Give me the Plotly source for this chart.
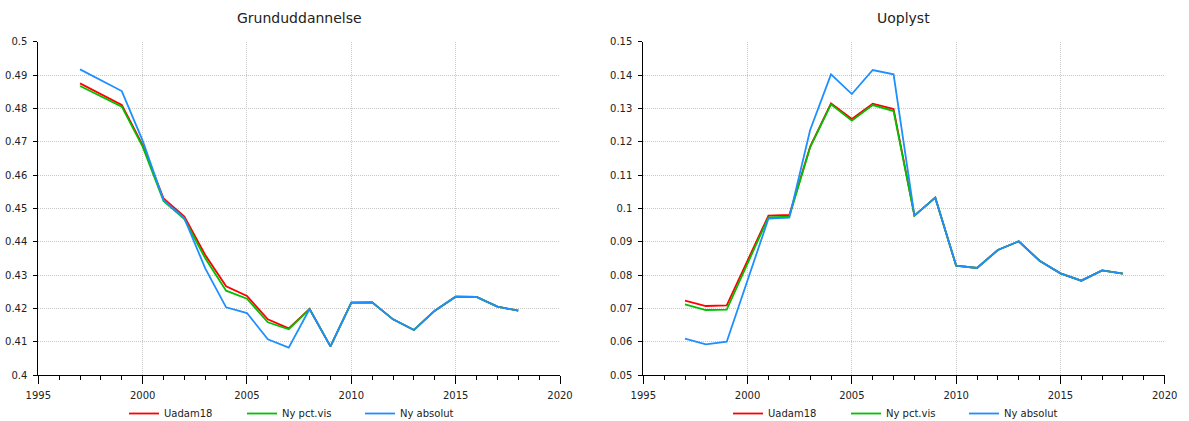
import plotly.graph_objects as go

years = list(range(1997, 2019))

# Grunduddannelse
grund_uadam18 = [0.4875, 0.4843, 0.4810, 0.4690, 0.4530, 0.4475, 0.4360, 0.4266, 0.4237, 0.4167, 0.4140,
                 0.4198, 0.4086, 0.4217, 0.4218, 0.4167, 0.4135, 0.4193, 0.4235, 0.4234, 0.4205, 0.4193]
grund_pctvis = [0.4867, 0.4837, 0.4805, 0.4685, 0.4522, 0.4468, 0.4350, 0.4253, 0.4229, 0.4158, 0.4137,
                0.4198, 0.4086, 0.4217, 0.4218, 0.4167, 0.4135, 0.4193, 0.4235, 0.4234, 0.4205, 0.4193]
grund_absolut = [0.4917, 0.4885, 0.4852, 0.4703, 0.4525, 0.4470, 0.4320, 0.4203, 0.4186, 0.4107, 0.4082,
                 0.4198, 0.4086, 0.4217, 0.4218, 0.4167, 0.4135, 0.4193, 0.4235, 0.4234, 0.4205, 0.4193]

# Uoplyst
uopl_uadam18 = [0.0723, 0.0707, 0.0709, 0.0843, 0.0978, 0.0980, 0.1185, 0.1315, 0.1268, 0.1314, 0.1298,
                0.0978, 0.1032, 0.0828, 0.0821, 0.0875, 0.0901, 0.0843, 0.0805, 0.0783, 0.0814, 0.0804]
uopl_pctvis = [0.0712, 0.0695, 0.0696, 0.0835, 0.0973, 0.0975, 0.1183, 0.1312, 0.1263, 0.1310, 0.1292,
               0.0978, 0.1032, 0.0828, 0.0821, 0.0875, 0.0901, 0.0843, 0.0805, 0.0783, 0.0814, 0.0804]
uopl_absolut = [0.0609, 0.0592, 0.0600, 0.0788, 0.0969, 0.0972, 0.1235, 0.1402, 0.1343, 0.1415, 0.1402,
                0.0978, 0.1032, 0.0828, 0.0821, 0.0875, 0.0901, 0.0843, 0.0805, 0.0783, 0.0814, 0.0804]

series_names = ["Uadam18", "Ny pct.vis", "Ny absolut"]
titles = ["Grunduddannelse", "Uoplyst"]
x_ticks = [1995, 2000, 2005, 2010, 2015, 2020]
y_range_left = [0.4, 0.5]
y_range_right = [0.05, 0.15]

colors = ["#ff0000", "#00c000", "#1e8fff"]
FONT = "DejaVu Sans"
TXT = "#222222"

fig = go.Figure()

left = [grund_uadam18, grund_pctvis, grund_absolut]
right = [uopl_uadam18, uopl_pctvis, uopl_absolut]
for i, name in enumerate(series_names):
    fig.add_trace(go.Scatter(x=years, y=left[i], mode="lines", name=name,
                             line=dict(color=colors[i], width=1.8),
                             xaxis="x", yaxis="y", legend="legend"))
for i, name in enumerate(series_names):
    fig.add_trace(go.Scatter(x=years, y=right[i], mode="lines", name=name,
                             line=dict(color=colors[i], width=1.8),
                             xaxis="x2", yaxis="y2", legend="legend2"))

W, H = 1189.0, 421.0
ydom = [1 - 375 / H, 1 - 41.7 / H]
xdom1 = [38.3 / W, 560 / W]
xdom2 = [643.3 / W, 1164.7 / W]

def xaxis(dom, anchor):
    return dict(domain=dom, anchor=anchor, range=[1995, 2020], tickvals=x_ticks, automargin=False,
                showline=True, linecolor="black", linewidth=1,
                ticks="outside", ticklen=8, tickcolor="black", ticklabelstandoff=3,
                minor=dict(dtick=1, ticks="outside", ticklen=4, tickcolor="black", showgrid=False),
                showgrid=True, gridcolor="#c8c8c8", griddash="1px,1px", gridwidth=1,
                zeroline=False, tickfont=dict(family=FONT, size=10, color=TXT))

def yaxis(dom, anchor, rng):
    return dict(domain=dom, anchor=anchor, range=rng, dtick=0.01, tickformat=".2~f", automargin=False,
                showline=True, linecolor="black", linewidth=1,
                ticks="outside", ticklen=4, tickcolor="black", ticklabelstandoff=4,
                showgrid=True, gridcolor="#c8c8c8", griddash="1px,1px", gridwidth=1,
                zeroline=False, tickfont=dict(family=FONT, size=10, color=TXT))

legend_common = dict(orientation="h", yanchor="bottom", xanchor="left",
                     font=dict(family=FONT, size=10, color=TXT),
                     entrywidth=73, bgcolor="rgba(0,0,0,0)", borderwidth=0)

fig.update_layout(
    width=W, height=H,
    margin=dict(l=0, r=0, t=0, b=0, autoexpand=False),
    paper_bgcolor="white", plot_bgcolor="white",
    font=dict(family=FONT, size=10, color=TXT),
    xaxis=xaxis(xdom1, "y"),
    yaxis=yaxis(ydom, "x", y_range_left),
    xaxis2=xaxis(xdom2, "y2"),
    yaxis2=yaxis(ydom, "x2", y_range_right),
    legend=dict(x=124 / W, y=-7 / H, **legend_common),
    legend2=dict(x=728 / W, y=-7 / H, **legend_common),
    annotations=[
        dict(text=titles[0], x=(xdom1[0] + xdom1[1]) / 2, y=1 - 18 / H, xref="paper", yref="paper",
             showarrow=False, font=dict(family=FONT, size=14, color=TXT), xanchor="center", yanchor="middle"),
        dict(text=titles[1], x=(xdom2[0] + xdom2[1]) / 2, y=1 - 18 / H, xref="paper", yref="paper",
             showarrow=False, font=dict(family=FONT, size=14, color=TXT), xanchor="center", yanchor="middle"),
    ],
)

fig.write_html("out.html", config={"displayModeBar": False},
               post_script="document.body.style.margin='0px';document.body.style.overflow='hidden';")
